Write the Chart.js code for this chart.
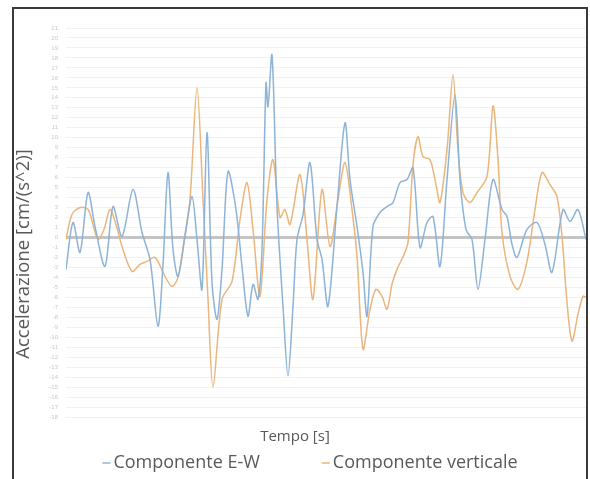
<!DOCTYPE html>
<html>
<head>
<meta charset="utf-8">
<script src="https://cdn.jsdelivr.net/npm/chart.js@4.4.0/dist/chart.umd.min.js"></script>
<style>
  html, body { margin: 0; padding: 0; background: #fff; }
  #wrap { width: 590px; height: 479px; }
</style>
</head>
<body>
<div id="wrap"><canvas id="chart"></canvas></div>
<script>
// tempo [s] e accelerazione
const timeEW = [0, 0.7, 1.4, 2.2, 2.9, 3.9, 4.7, 5.6, 6.7, 7.6, 8.4, 9.2, 9.7, 10.2, 10.7, 11.2, 11.9, 12.6, 13.1, 13.6,
  14.1, 14.6, 15.1, 15.6, 16.2, 17.0, 17.6, 18.2, 18.7, 19.2, 19.6, 20.0, 20.2, 20.6, 21.1, 21.7, 22.2, 22.7, 23.1, 23.7,
  24.4, 25.1, 25.6, 26.2, 27.1, 27.9, 28.4, 29.1, 29.7, 30.1, 30.7, 31.4, 32.1, 32.7, 33.4, 34.1, 34.7, 35.4, 36.1, 36.7,
  37.4, 38.1, 38.9, 39.4, 40.0, 40.6, 41.2, 41.9, 42.7, 43.6, 44.1, 44.6, 45.1, 46.1, 47.1, 47.9, 48.6, 49.7, 50.4, 51.2, 52.0];
const accEW = [-3.2, 1.5, -1.5, 4.5, 1.1, -2.9, 3.1, 0.1, 4.8, 0.5, -2.2, -8.9, -2.7, 6.5, -1.2, -3.9, 0.1, 4.1, -0.2, -5.2,
  10.5, -4.5, -8.2, -3.2, 6.6, 2.8, -2.9, -7.9, -4.7, -6.2, -1.2, 15.5, 13.1, 18.3, 3.1, -6.9, -13.9, -6.9, -0.2, 2.3,
  7.5, -0.2, -2.2, -6.9, 3.1, 11.5, 5.8, 1.1, -3.5, -7.9, 1.1, 2.5, 3.1, 3.5, 5.5, 5.8, 7.0, -1.0, 1.5, 2.1,
  -2.9, 5.8, 14.3, 5.8, 0.8, -0.2, -5.2, -0.2, 5.8, 2.8, 2.1, -0.7, -2.0, 0.8, 1.5, -0.7, -3.5, 2.8, 1.6, 2.8, -0.2];

const timeV = [0, 0.6, 1.4, 2.2, 2.7, 3.2, 3.8, 4.4, 5.0, 5.6, 6.6, 7.4, 8.1, 8.9, 9.9, 10.6, 11.2, 11.9, 12.4, 13.1,
  13.7, 14.2, 14.7, 15.6, 16.6, 17.4, 18.1, 18.7, 19.4, 20.1, 20.7, 21.4, 21.9, 22.4, 23.4, 24.1, 24.7, 25.6, 26.4, 27.2,
  27.9, 28.6, 29.1, 29.7, 30.4, 31.0, 31.6, 32.1, 32.6, 33.1, 33.8, 34.2, 34.7, 35.2, 35.7, 36.4, 37.0, 37.4, 38.1, 38.7,
  39.2, 39.7, 40.4, 41.1, 42.1, 42.7, 43.2, 43.6, 44.4, 45.2, 46.1, 46.9, 47.6, 48.4, 49.1, 49.6, 50.1, 50.6, 51.2, 51.7, 52.0];
const accV = [-0.2, 2.3, 3.0, 2.8, 1.3, -0.2, 0.8, 2.8, 1.3, -0.9, -3.4, -2.7, -2.4, -2.0, -3.9, -4.9, -4.0, 0.3, 3.8, 15.0,
  3.8, -6.2, -15.0, -6.2, -4.4, 1.8, 5.5, 0.8, -5.9, 3.8, 7.8, 2.0, 2.8, 1.3, 6.3, -0.2, -6.2, 4.8, -0.9, 3.8,
  7.5, 2.8, -1.9, -11.2, -7.2, -5.2, -5.9, -7.2, -4.7, -3.2, -1.7, -0.5, 7.3, 10.1, 8.1, 7.8, 5.3, 3.5, 8.8, 16.3,
  8.8, 4.5, 3.5, 4.5, 6.1, 13.2, 7.8, 0.5, -3.9, -5.2, -2.4, 2.8, 6.5, 5.3, 4.1, 0.1, -6.5, -10.4, -7.7, -5.9, -6.0];

const seriesNames = ['Componente E-W', 'Componente verticale'];
const xTitle = 'Tempo [s]';
const yTitle = 'Accelerazione [cm/(s^2)]';

const pts = (xs, ys) => xs.map((x, i) => ({ x: x, y: ys[i] }));

const txt = '#595959';
const font = 'Open Sans';

// cornice scura attorno al grafico
const framePlugin = {
  id: 'frame',
  beforeDraw(chart) {
    const ctx = chart.ctx;
    ctx.save();
    ctx.fillStyle = '#fff';
    ctx.fillRect(0, 0, chart.width, chart.height);
    ctx.strokeStyle = '#3a3a3a';
    ctx.lineWidth = 2;
    ctx.strokeRect(13, 8, 574, 520);
    ctx.restore();
  }
};

// titoli degli assi e legenda in basso
const labelsPlugin = {
  id: 'labels',
  afterDraw(chart) {
    const ctx = chart.ctx;
    const W = chart.width;
    ctx.save();
    ctx.fillStyle = txt;
    ctx.textAlign = 'center';
    ctx.textBaseline = 'middle';

    ctx.font = '15px "' + font + '"';
    ctx.fillText(xTitle, W / 2, 437);

    ctx.save();
    ctx.translate(24, 254);
    ctx.rotate(-Math.PI / 2);
    ctx.font = '18.5px "' + font + '"';
    ctx.fillText(yTitle, 0, 0);
    ctx.restore();

    const sets = chart.data.datasets;
    const gap = 62, mark = 8, markGap = 3;
    ctx.font = '18px "' + font + '"';
    ctx.textAlign = 'left';
    const widths = sets.map(d => mark + markGap + ctx.measureText(d.label).width);
    const total = widths.reduce((a, b) => a + b, 0) + gap * (sets.length - 1);
    let x = 310 - total / 2;
    const y = 463;
    sets.forEach((d, i) => {
      ctx.strokeStyle = d.borderColor;
      ctx.lineWidth = 1.5;
      ctx.beginPath();
      ctx.moveTo(x, y);
      ctx.lineTo(x + mark, y);
      ctx.stroke();
      ctx.fillText(d.label, x + mark + markGap, y);
      x += widths[i] + gap;
    });
    ctx.restore();
  }
};

new Chart(document.getElementById('chart'), {
  type: 'line',
  data: {
    datasets: [
      {
        label: seriesNames[0],
        data: pts(timeEW, accEW),
        borderColor: '#8db3d8',
        borderWidth: 1.5,
        pointRadius: 0,
        tension: 0.3
      },
      {
        label: seriesNames[1],
        data: pts(timeV, accV),
        borderColor: '#ebb57c',
        borderWidth: 1.5,
        pointRadius: 0,
        tension: 0.3
      }
    ]
  },
  options: {
    responsive: true,
    maintainAspectRatio: false,
    animation: false,
    layout: { padding: { left: 14, right: 4, top: 28, bottom: 62 } },
    plugins: {
      tooltip: { enabled: false },
      legend: { display: false }
    },
    scales: {
      x: {
        type: 'linear',
        min: 0,
        max: 52,
        afterFit(scale) { scale.height = 0; },
        grid: { display: false },
        border: { display: false },
        ticks: { display: false }
      },
      y: {
        min: -18,
        max: 21,
        afterFit(scale) { scale.width = 52; },
        ticks: {
          stepSize: 1,
          autoSkip: false,
          color: '#c8c8c8',
          font: { size: 6 },
          padding: 8
        },
        grid: {
          drawTicks: false,
          color: c => c.tick.value === 0 ? '#c4c4c4' : '#f1f1f1',
          lineWidth: c => c.tick.value === 0 ? 3 : 1
        },
        border: { display: false }
      }
    }
  },
  plugins: [framePlugin, labelsPlugin]
});
</script>
</body>
</html>
